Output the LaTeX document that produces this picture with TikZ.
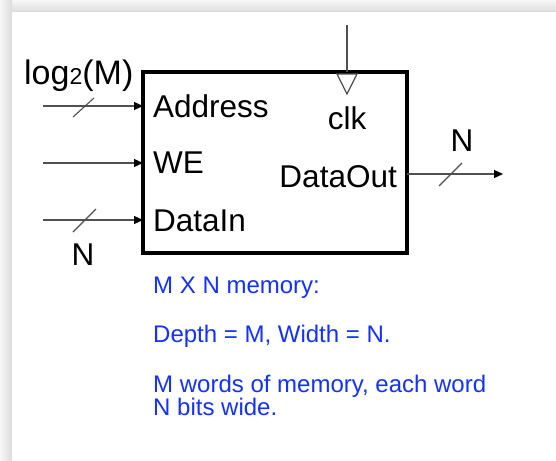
\documentclass[tikz,border=0pt]{standalone}
\usepackage{fontspec}
\setmainfont{Liberation Sans}
\usetikzlibrary{arrows.meta}
\definecolor{noteblue}{RGB}{20,50,255}
\definecolor{wire}{RGB}{80,80,80}
\tikzset{
  lbl/.style={inner sep=0pt, font=\fontsize{31.5}{33}\selectfont},
  note/.style={inner sep=0pt, text=noteblue, font=\fontsize{24}{23}\selectfont, align=left},
  wireline/.style={draw=wire, line width=1.2pt},
  inarrow/.style={wireline, -{Triangle[length=9pt,width=8pt,color=black]}},
  busslash/.style={draw=wire, line width=1.1pt},
  memblock/.style={draw=black, line width=4pt}
}
\begin{document}
\begin{tikzpicture}[x=1pt,y=-1pt]
\useasboundingbox (0,0) rectangle (556,460);
% background and card shadow
\fill[gray!12] (0,0) rectangle (556,460);
\shade[top color=gray!6, bottom color=gray!28] (0,0) rectangle (556,12);
\shade[left color=gray!6, right color=gray!28] (0,0) rectangle (12,460);
\fill[white] (12,12) rectangle (556,460);
% memory block
\draw[memblock] (143,72) rectangle (407,253);
% clock
\coordinate (clktop) at (347,25);
\coordinate (clkin) at (347,72);
\draw[wireline] (clktop) -- (clkin);
\draw[draw=wire, line width=1.3pt, fill=white, line join=miter] (337,74) -- (357,74) -- (347,94) -- cycle;
% labels inside
\node[lbl, anchor=base west] (addr) at (153,117) {Address};
\node[lbl, anchor=base west] (we) at (153,173) {WE};
\node[lbl, anchor=base west] (din) at (153,231) {DataIn};
\node[lbl, anchor=base east] (dout) at (397,187) {DataOut};
\node[lbl, anchor=base] (clk) at (347,129) {clk};
% inputs
\coordinate (addrS) at (43,106);
\coordinate (addrE) at (143,106);
\coordinate (weS) at (43,163);
\coordinate (weE) at (143,163);
\coordinate (dinS) at (43,220);
\coordinate (dinE) at (143,220);
\draw[inarrow] (addrS) -- (addrE);
\draw[inarrow] (weS) -- (weE);
\draw[inarrow] (dinS) -- (dinE);
\draw[busslash] (73,117) -- (94,98);
\draw[busslash] (73,232) -- (96,209);
% output
\coordinate (doutS) at (407,174);
\coordinate (doutE) at (503,174);
\draw[inarrow] (doutS) -- (doutE);
\draw[busslash] (439,186) -- (462,163);
% widths
\node[inner sep=0pt, anchor=base west, font=\fontsize{34}{34}\selectfont] (logm) at (24,84) {log{\fontsize{23}{23}\selectfont\raisebox{-1pt}{2}}(M)};
\node[lbl, anchor=base] (nin) at (83,265) {N};
\node[lbl, anchor=base] (nout) at (462,151) {N};
% notes
\node[note, anchor=base west] (n1) at (153,293) {M X N memory:};
\node[note, anchor=base west] (n2) at (153,342) {Depth = M, Width = N.};
\node[note, anchor=base west] (n3) at (153,392) {M words of memory, each word};
\node[note, anchor=base west] (n4) at (153,415) {N bits wide.};
\end{tikzpicture}
\end{document}
